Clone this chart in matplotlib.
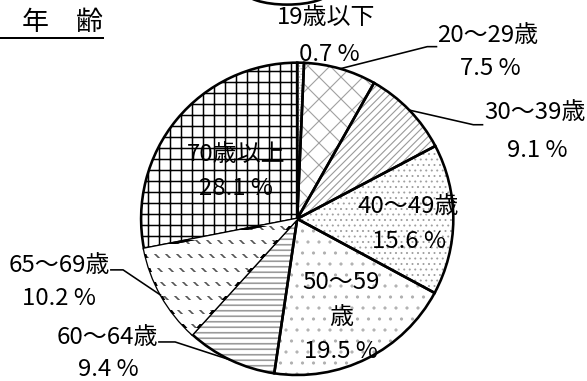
import matplotlib
matplotlib.use("Agg")
import matplotlib.pyplot as plt
import numpy as np
from matplotlib.patches import Ellipse

plt.rcParams['font.family'] = ['Noto Sans CJK JP', 'DejaVu Sans']

# === DATA ===
age_groups = ["19歳以下", "20～29歳", "30～39歳", "40～49歳",
              "50～59\n歳", "60～64歳", "65～69歳", "70歳以上"]
shares = [0.7, 7.5, 9.1, 15.6, 19.5, 9.4, 10.2, 28.1]
pct_labels = [f"{v} %" for v in shares]
title = "年　齢"

# === LAYOUT (pixels, y measured from top) ===
DPI = 200 / 3
W, H = 587, 381
CENTER = (297, 219)
RADIUS = 156
# name position, percent position
name_pos = [(326, 17), (487, 35), (535, 112), (408, 206),
            (341, 300), (107, 337), (59, 265), (236, 154)]
pct_pos = [(329, 54), (490, 68), (537, 150), (409, 241),
           (341, 351), (108, 369), (59, 298), (236, 188)]
# leader elbows: index -> (elbow, end)
leaders = {1: ((427, 47), (437, 47)),
           2: ((473, 125), (483, 125)),
           5: ((175, 342), (158, 342)),
           6: ((123, 270), (110, 270))}
# hatch style per slice: hatch, colour, hatch linewidth (pt)
hatches = [("....", "#999999", 0.8), ("x", "#a0a0a0", 1.2),
           ("///", "#9a9a9a", 1.2), ("..", "#a0a0a0", 1.0),
           (".", "#b0b0b0", 1.0), ("--", "#9a9a9a", 1.8),
           ("\\\\", "#555555", 1.8), ("+", "black", 1.6)]


def px(v):
    """pixel size -> points"""
    return v * 72 / DPI


def yy(y):
    return H - y


def set_hlw(patch, lw):
    if hasattr(patch, "set_hatch_linewidth"):
        patch.set_hatch_linewidth(lw)


fig = plt.figure(figsize=((W + 0.4) / DPI, (H + 0.4) / DPI), dpi=DPI)
ax = fig.add_axes([0, 0, 1, 1])
cx, cy = CENTER[0], yy(CENTER[1])

# fill with hatches
wedges, _ = ax.pie(shares, startangle=90, counterclock=False,
                   center=(cx, cy), radius=RADIUS,
                   wedgeprops=dict(linewidth=0, facecolor="white"))
for w, (h, c, lw) in zip(wedges, hatches):
    with plt.rc_context({"hatch.linewidth": lw}):
        w.set_hatch(h)
        w.set_edgecolor(c)
        set_hlw(w, lw)

# break the 65-69 diagonal hatch into rows of short dashes
gap_rows = np.arange(cy - RADIUS, cy + RADIUS, 14)
brk = ax.hlines(gap_rows, cx - RADIUS, cx, color="white", linewidth=px(10))
brk.set_clip_path(wedges[6])

# outlines
ax.pie(shares, startangle=90, counterclock=False, center=(cx, cy),
       radius=RADIUS,
       wedgeprops=dict(fill=False, edgecolor="black", linewidth=px(2.6)))

fs = px(24)
for i, name in enumerate(age_groups):
    nx, ny = name_pos[i]
    qx, qy = pct_pos[i]
    if "\n" in name:
        top, bot = name.split("\n")
        ax.text(nx, yy(282), top, fontsize=fs, ha="center", va="center")
        ax.text(nx, yy(317), bot, fontsize=fs, ha="center", va="center")
    else:
        ax.text(nx, yy(ny), name, fontsize=fs, ha="center", va="center")
    ax.text(qx, yy(qy), pct_labels[i], fontsize=fs, ha="center", va="center")

# leader lines from the wedge middle on the rim
for i, (elbow, end) in leaders.items():
    w = wedges[i]
    a = np.deg2rad((w.theta1 + w.theta2) / 2)
    sx, sy = cx + RADIUS * np.cos(a), cy + RADIUS * np.sin(a)
    ax.plot([sx, elbow[0], end[0]], [sy, yy(elbow[1]), yy(end[1])],
            color="black", linewidth=px(1.6), solid_capstyle="butt")

# title with underline
ax.text(62, yy(22), title, fontsize=px(27), ha="center", va="center")
ax.plot([0, 103], [yy(38), yy(38)], color="black", linewidth=px(2))

# cut-off rounded box at the top edge
ax.add_patch(Ellipse((287, yy(-9)), 86, 28, fill=False,
                     edgecolor="black", linewidth=px(2.6)))

ax.set_xlim(0, W)
ax.set_ylim(0, H)
ax.set_aspect("auto")
ax.axis("off")

fig.savefig("out.png", dpi=DPI, facecolor="white")
